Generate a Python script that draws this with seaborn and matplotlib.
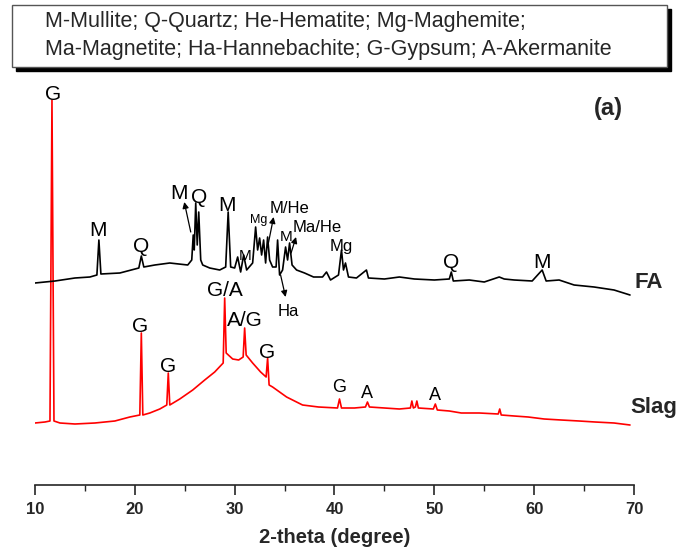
import matplotlib
matplotlib.use("Agg")
import matplotlib.pyplot as plt
from matplotlib.patches import Rectangle
import seaborn as sns
import pandas as pd

# ---- XRD patterns (2-theta in degrees, intensity in arbitrary units, FA already offset) ----
slag_2theta = [10.0, 11.0, 11.5, 11.7, 11.9, 12.5, 14.0, 16.0, 18.0, 19.5, 20.5, 20.65, 20.8,
               21.5, 22.5, 23.2, 23.35, 23.5, 24.5, 25.8, 27.0, 28.0, 28.85, 29.0, 29.15,
               29.8, 30.4, 30.85, 31.0, 31.15, 31.8, 32.6, 33.15, 33.3, 33.45, 33.8, 35.2,
               36.8, 38.4, 40.3, 40.5, 40.7, 42.0, 43.1, 43.3, 43.5, 45.0, 46.5, 47.6, 47.75,
               47.9, 48.1, 48.25, 48.4, 49.9, 50.1, 50.3, 51.5, 52.7, 54.5, 56.4, 56.55, 56.7,
               58.0, 59.4, 61.0, 62.7, 64.5, 66.1, 68.0, 69.6]
slag_intensity = [62, 63, 64, 385, 64, 62, 61, 62, 64, 68, 70, 152, 70,
                  72, 76, 80, 112, 80, 86, 95, 105, 113, 122, 187, 132,
                  126, 125, 128, 157, 130, 122, 113, 108, 127, 100, 98, 88,
                  80, 78, 77, 86, 77, 77, 78, 83, 78, 77, 76, 77, 84,
                  77, 78, 84, 77, 76, 81, 75, 74, 72, 72, 71, 76, 70,
                  69, 68, 66, 65, 64, 63, 62, 60]

fa_2theta = [10.0, 12.0, 14.0, 15.5, 16.2, 16.4, 16.6, 18.5, 20.4, 20.65, 20.9, 22.0, 23.5,
             25.3, 25.7, 25.85, 25.95, 26.1, 26.25, 26.4, 26.6, 26.8, 27.5, 28.5, 29.1,
             29.35, 29.6, 30.0, 30.3, 30.6, 30.9, 31.2, 31.8, 32.1, 32.3, 32.5, 32.7, 32.9,
             33.1, 33.3, 33.5, 33.8, 34.15, 34.3, 34.5, 34.8, 35.1, 35.3, 35.5, 35.75, 36.2,
             37.0, 37.9, 38.8, 39.2, 39.6, 40.4, 40.7, 40.9, 41.1, 41.4, 42.2, 43.2, 43.4,
             45.0, 46.5, 48.0, 50.0, 51.5, 51.7, 51.9, 53.5, 55.0, 56.5, 57.0, 58.0, 59.8,
             60.8, 61.2, 62.5, 64.0, 66.0, 68.0, 69.6]
fa_intensity = [202, 204, 207, 208, 210, 245, 211, 212, 217, 229, 218, 220, 222,
                220, 225, 250, 235, 282, 240, 273, 225, 220, 217, 215, 218,
                273, 218, 217, 228, 213, 230, 215, 222, 258, 235, 247, 230, 245,
                222, 248, 225, 218, 218, 245, 210, 215, 238, 225, 242, 220, 215,
                212, 208, 208, 213, 205, 210, 235, 215, 222, 208, 207, 215, 207,
                206, 208, 206, 205, 206, 213, 204, 205, 203, 208, 206, 205, 204,
                215, 204, 205, 200, 198, 195, 190]

# phase labels: (text, 2-theta, intensity, font size)
fa_labels = [("M", 16.3, 255, 15), ("Q", 20.65, 238, 15), ("M", 24.4, 292, 15),
             ("Q", 26.4, 288, 15), ("M", 29.2, 280, 15), ("M", 31.0, 229, 11),
             ("Mg", 32.4, 265, 9), ("M/He", 35.5, 277, 12), ("M", 35.15, 248, 11),
             ("Ma/He", 38.3, 258, 12), ("Mg", 40.7, 238, 12), ("Q", 51.7, 223, 15),
             ("M", 60.8, 223, 15), ("Ha", 35.4, 174, 12)]
slag_labels = [("G", 11.8, 391, 15), ("G", 20.55, 159, 15), ("G", 23.3, 119, 15),
               ("G/A", 29.0, 195, 15), ("A/G", 31.0, 164, 15), ("G", 33.2, 133, 15),
               ("G", 40.5, 97, 13), ("A", 43.3, 92, 13), ("A", 50.1, 89, 13)]
# arrows: (tail 2-theta, tail intensity, head 2-theta, head intensity)
arrows = [(25.6, 253, 24.95, 283), (33.3, 238, 33.9, 268),
          (34.6, 210, 35.1, 188), (35.65, 232, 36.15, 248)]

legend_lines = ["M-Mullite; Q-Quartz; He-Hematite; Mg-Maghemite;",
                "Ma-Magnetite; Ha-Hannebachite; G-Gypsum; A-Akermanite"]

df = pd.concat([
    pd.DataFrame({"2theta": slag_2theta, "intensity": slag_intensity, "sample": "Slag"}),
    pd.DataFrame({"2theta": fa_2theta, "intensity": fa_intensity, "sample": "FA"}),
], ignore_index=True)

sns.set_style("ticks")
plt.rcParams["font.family"] = ["Liberation Sans", "DejaVu Sans"]

fig = plt.figure(figsize=(6.81, 5.49), dpi=100)
ax = fig.add_axes([35 / 681, 64 / 549, 599 / 681, 400 / 549])

sns.lineplot(data=df, x="2theta", y="intensity", hue="sample",
             palette={"Slag": "red", "FA": "black"}, sort=False, estimator=None,
             legend=False, linewidth=1.2, ax=ax)

ax.set_xlim(10, 70)
ax.set_ylim(0, 400)
ax.set_yticks([])
ax.set_ylabel("")
for s in ("left", "right", "top"):
    ax.spines[s].set_visible(False)
ax.spines["bottom"].set_linewidth(1.2)
ax.set_xticks(range(10, 71, 10))
ax.set_xticks(range(15, 70, 10), minor=True)
ax.tick_params(axis="x", which="major", direction="out", length=7, width=1.2,
               labelsize=12, pad=5)
ax.tick_params(axis="x", which="minor", direction="out", length=4, width=1.0)
for t in ax.get_xticklabels():
    t.set_fontweight("bold")
ax.set_xlabel("2-theta (degree)", fontsize=14.5, fontweight="bold", labelpad=8)

for txt, x, y, fs in fa_labels + slag_labels:
    ax.text(x, y, txt, ha="center", va="center", fontsize=fs, color="black", clip_on=False)
for x0, y0, x1, y1 in arrows:
    ax.annotate("", xy=(x1, y1), xytext=(x0, y0),
                arrowprops=dict(arrowstyle="-|>", color="black", lw=0.9,
                                mutation_scale=9, shrinkA=0, shrinkB=0))

ax.text(70.1, 202, "FA", ha="left", va="center", fontsize=16, fontweight="bold", clip_on=False)
ax.text(69.65, 77, "Slag", ha="left", va="center", fontsize=16, fontweight="bold", clip_on=False)
ax.text(67.4, 377, "(a)", ha="center", va="center", fontsize=17, fontweight="bold")

# boxed key of phase abbreviations with a drop shadow
fig.patches.append(Rectangle((16 / 681, (549 - 71) / 549), 655 / 681, 62 / 549,
                             transform=fig.transFigure, facecolor="black",
                             edgecolor="black", zorder=1))
fig.patches.append(Rectangle((12 / 681, (549 - 67) / 549), 655 / 681, 62 / 549,
                             transform=fig.transFigure, facecolor="white",
                             edgecolor="#555555", linewidth=1.0, zorder=2))
fig.text(45 / 681, 1 - 22 / 549, legend_lines[0], ha="left", va="center", fontsize=15.5, zorder=3)
fig.text(45 / 681, 1 - 50 / 549, legend_lines[1], ha="left", va="center", fontsize=15.5, zorder=3)

fig.savefig("out.png", dpi=100, facecolor="white")
